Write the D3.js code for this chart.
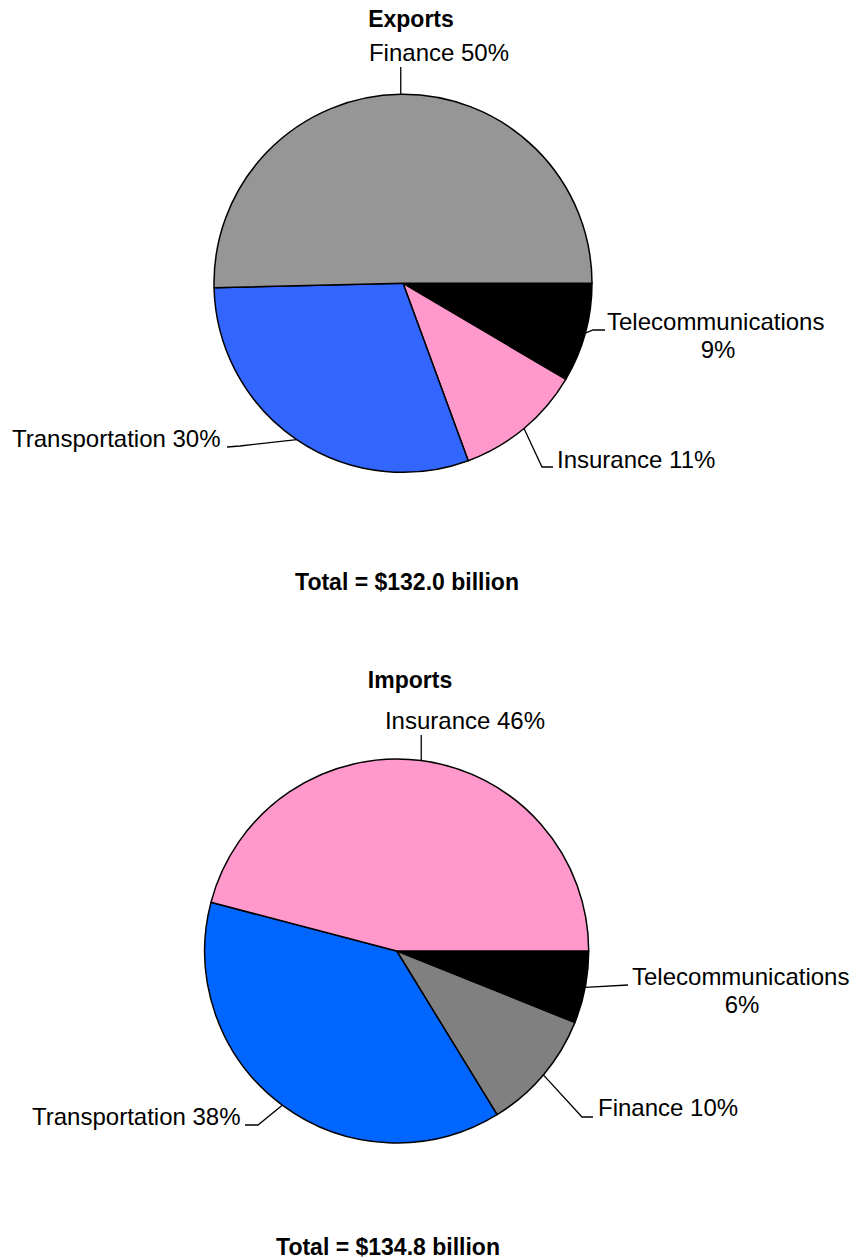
<!DOCTYPE html>
<html>
<head>
<meta charset="utf-8">
<script src="https://cdn.jsdelivr.net/npm/d3@7"></script>
<style>
  body { margin: 0; background: white; }
</style>
</head>
<body>
<div id="chart"></div>
<script>
let font = "Liberation Sans, Arial, sans-serif"

// Exports (billion $), order clockwise from 3 o'clock
let exportKategorien = ["Telecommunications", "Insurance", "Transportation", "Finance"];
let exportWerte = [11.2, 14.4, 39.9, 66.5];
let exportProzent = ["9%", "11%", "30%", "50%"];
let exportFarben = ["#000000", "#FF99CC", "#3366FF", "#969696"];

// Imports (billion $)
let importKategorien = ["Telecommunications", "Finance", "Transportation", "Insurance"];
let importWerte = [8.2, 13.7, 51.0, 61.9];
let importProzent = ["6%", "10%", "38%", "46%"];
let importFarben = ["#000000", "#808080", "#0066FF", "#FF99CC"];

let width = 861, height = 1260;

let svg = d3.select("#chart").append("svg")
    .attr("width", width)
    .attr("height", height);

// label layout per slice: text position, anchor, leader elbow points
let exportLabels = [
    { x: 607, y: 330, anchor: "start", zweiteZeile: { x: 718, y: 358 }, leader: [[593, 330], [605, 330]] },
    { x: 557, y: 468, anchor: "start", leader: [[542, 467], [553, 467]] },
    { x: 12, y: 447, anchor: "start", leader: [[240, 446], [227, 447]] },
    { x: 439, y: 61, anchor: "middle", leader: [[null, 67]] }
];
let importLabels = [
    { x: 632, y: 985, anchor: "start", zweiteZeile: { x: 742, y: 1013 }, leader: [[628, 985]] },
    { x: 598, y: 1116, anchor: "start", leader: [[582, 1117], [593, 1117]] },
    { x: 32, y: 1125, anchor: "start", leader: [[258, 1125], [245, 1125]] },
    { x: 465, y: 729, anchor: "middle", leader: [[null, 735]] }
];

zeichnePie({
    titel: "Exports", titelX: 411, titelY: 27,
    total: "Total = $132.0 billion", totalX: 407, totalY: 590,
    cx: 403, cy: 283.3, r: 189,
    kategorien: exportKategorien, werte: exportWerte, prozent: exportProzent,
    farben: exportFarben, labels: exportLabels
});

zeichnePie({
    titel: "Imports", titelX: 410, titelY: 688,
    total: "Total = $134.8 billion", totalX: 388, totalY: 1255,
    cx: 396.7, cy: 951, r: 192,
    kategorien: importKategorien, werte: importWerte, prozent: importProzent,
    farben: importFarben, labels: importLabels
});

function zeichnePie(cfg) {
    let daten = cfg.kategorien.map(function (k, i) {
        return { key: k, val: cfg.werte[i], prozent: cfg.prozent[i], farbe: cfg.farben[i], label: cfg.labels[i] };
    });

    // start at 3 o'clock, go clockwise
    let pie = d3.pie()
        .value(function (d) { return d.val; })
        .sort(null)
        .startAngle(Math.PI / 2)
        .endAngle(Math.PI / 2 + 2 * Math.PI);

    let arc = d3.arc().innerRadius(0).outerRadius(cfg.r);

    let g = svg.append("g")
        .attr("transform", "translate(" + cfg.cx + "," + cfg.cy + ")");

    let slices = pie(daten);

    g.selectAll("path.slice").data(slices)
        .enter().append("path")
        .attr("class", "slice")
        .attr("d", arc)
        .style("fill", function (d) { return d.data.farbe; })
        .style("stroke", "black")
        .style("stroke-width", 1.5)
        .style("stroke-linejoin", "round");

    // leader lines + labels
    slices.forEach(function (s) {
        let mitte = (s.startAngle + s.endAngle) / 2;
        let ex = cfg.cx + cfg.r * Math.sin(mitte);
        let ey = cfg.cy - cfg.r * Math.cos(mitte);
        let punkte = [[ex, ey]];
        s.data.label.leader.forEach(function (p) {
            punkte.push([p[0] === null ? ex : p[0], p[1]]);
        });

        svg.append("path")
            .attr("d", d3.line()(punkte))
            .style("fill", "none")
            .style("stroke", "black")
            .style("stroke-width", 1.3);

        let lab = s.data.label;
        if (lab.zweiteZeile) {
            svg.append("text")
                .attr("x", lab.x).attr("y", lab.y)
                .attr("text-anchor", lab.anchor)
                .attr("font-family", font).attr("font-size", "24px")
                .text(s.data.key);
            svg.append("text")
                .attr("x", lab.zweiteZeile.x).attr("y", lab.zweiteZeile.y)
                .attr("text-anchor", "middle")
                .attr("font-family", font).attr("font-size", "24px")
                .text(s.data.prozent);
        } else {
            svg.append("text")
                .attr("x", lab.x).attr("y", lab.y)
                .attr("text-anchor", lab.anchor)
                .attr("font-family", font).attr("font-size", "24px")
                .text(s.data.key + " " + s.data.prozent);
        }
    });

    svg.append("text")
        .attr("x", cfg.titelX).attr("y", cfg.titelY)
        .attr("text-anchor", "middle")
        .attr("font-family", font).attr("font-size", "23px")
        .attr("font-weight", "bold")
        .text(cfg.titel);

    svg.append("text")
        .attr("x", cfg.totalX).attr("y", cfg.totalY)
        .attr("text-anchor", "middle")
        .attr("font-family", font).attr("font-size", "23px")
        .attr("font-weight", "bold")
        .text(cfg.total);
}
</script>
</body>
</html>
